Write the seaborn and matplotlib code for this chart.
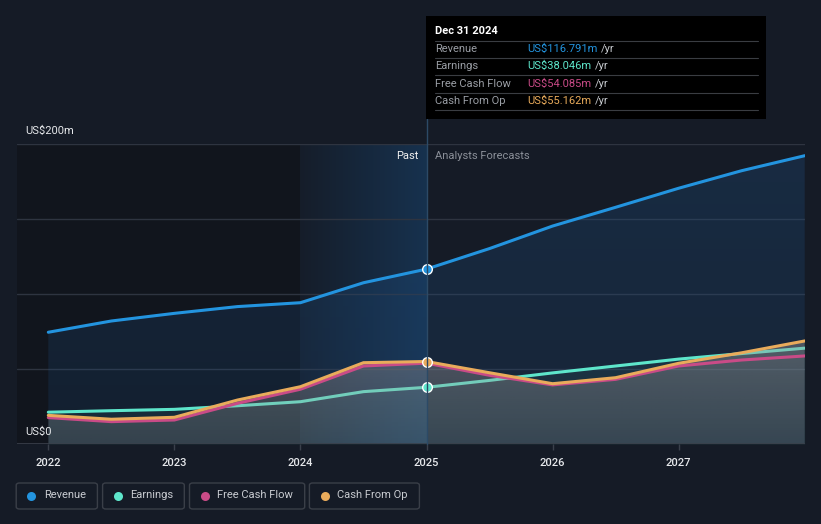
import numpy as np
import pandas as pd
import matplotlib
matplotlib.use("Agg")
import matplotlib.pyplot as plt
from matplotlib.patches import FancyBboxPatch, Rectangle
from matplotlib.lines import Line2D
import seaborn as sns

# ---------------- data (US$ m) ----------------
years_past = [2022.0, 2022.5, 2023.0, 2023.5, 2024.0, 2024.5, 2025.0]
years_fc = [2025.0, 2025.5, 2026.0, 2026.5, 2027.0, 2027.5, 2028.0]

revenue_past = [74.7, 82.2, 87.3, 91.8, 94.4, 107.7, 116.8]
revenue_fc = [116.8, 130.5, 145.5, 158.0, 170.7, 182.4, 192.4]
earnings_past = [21.4, 22.4, 23.3, 25.7, 28.4, 35.1, 38.0]
earnings_fc = [38.0, 42.6, 47.6, 52.2, 56.8, 60.5, 64.1]
fcf_past = [17.8, 15.1, 16.2, 27.3, 36.7, 52.2, 54.1]
fcf_fc = [54.1, 46.0, 39.6, 43.3, 52.2, 56.2, 58.9]
cfo_past = [19.3, 16.7, 18.0, 29.5, 38.4, 54.4, 55.2]
cfo_fc = [55.2, 47.7, 40.4, 44.4, 54.0, 61.0, 68.9]

series_names = ["Revenue", "Earnings", "Free Cash Flow", "Cash From Op"]
tooltip_values = ["US$116.791m", "US$38.046m", "US$54.085m", "US$55.162m"]
year_ticks = [2022, 2023, 2024, 2025, 2026, 2027]
y_labels = ["US$0", "US$200m"]

colors = {"Revenue": "#2394df", "Earnings": "#5ee6cb",
          "Free Cash Flow": "#c94b87", "Cash From Op": "#e9ab5b"}

def series(past, fc):
    return list(past) + list(fc[1:])

years = years_past + years_fc[1:]
data = {
    "Revenue": series(revenue_past, revenue_fc),
    "Earnings": series(earnings_past, earnings_fc),
    "Free Cash Flow": series(fcf_past, fcf_fc),
    "Cash From Op": series(cfo_past, cfo_fc),
}
df = pd.concat([pd.DataFrame({"year": years, "value": data[k], "series": k}) for k in series_names])

# ---------------- style ----------------
BG = "#151b26"
sns.set_theme(style="dark")
plt.rcParams["font.family"] = ["Roboto", "DejaVu Sans"]

W, H = 821, 524
fig = plt.figure(figsize=(W / 100, H / 100), dpi=100, facecolor=BG)
ax_l, ax_r, ax_t, ax_b = 16.8, 804.7, 144.3, 444.3
ax = fig.add_axes([ax_l / W, 1 - ax_b / H, (ax_r - ax_l) / W, (ax_b - ax_t) / H])
ax.set_facecolor(BG)
x0, x1 = 2021.75, 2028.0
ax.set_xlim(x0, x1)
ax.set_ylim(0, 200)

# background regions
ax.axvspan(x0, 2024.0, color="#11151d", zorder=0, lw=0)
grad = np.zeros((2, 512, 4))
grad[..., 0] = 0.10
grad[..., 1] = 0.33
grad[..., 2] = 0.55
grad[..., 3] = np.linspace(0.04, 0.40, 512)[None, :]
ax.imshow(grad, extent=[2024.0, 2025.0, 0, 200], aspect="auto", zorder=0.5,
          interpolation="bicubic")

# grid lines
for gy in [50, 100, 150, 200]:
    ax.axhline(gy, color="#2e3440", lw=1, zorder=1)
ax.axhline(0, color="#3a404b", lw=1.2, zorder=6)

xs = np.array(years)

def gradient_fill(yvals, rgb, a_top, a_bot, z):
    poly = ax.fill_between(xs, 0, yvals, color="none", lw=0, zorder=z)
    g = np.zeros((256, 2, 4))
    g[..., 0], g[..., 1], g[..., 2] = rgb
    g[..., 3] = np.linspace(a_top, a_bot, 256)[:, None]
    top = max(yvals)
    im = ax.imshow(g, extent=[xs[0], xs[-1], 0, top], aspect="auto", zorder=z,
                   interpolation="bilinear", origin="upper")
    path = poly.get_paths()[0]
    im.set_clip_path(path, transform=ax.transData)

# revenue fill
gradient_fill(data["Revenue"], (0.13, 0.35, 0.58), 0.26, 0.16, 1.5)
ax.fill_between(xs, 0, data["Earnings"], color="#5ee6cb", alpha=0.06, lw=0, zorder=1.6)

# lines via seaborn
sns.lineplot(data=df[df.series.isin(["Revenue", "Earnings"])], x="year", y="value",
             hue="series", palette=colors, lw=2.2, legend=False, ax=ax, zorder=3,
             estimator=None, sort=False)
# gray fill over earnings line
gradient_fill(list(np.maximum(data["Cash From Op"], data["Free Cash Flow"])),
              (0.62, 0.60, 0.60), 0.42, 0.22, 3.5)
sns.lineplot(data=df[df.series.isin(["Free Cash Flow", "Cash From Op"])], x="year", y="value",
             hue="series", palette=colors, lw=2.2, legend=False, ax=ax, zorder=4,
             estimator=None, sort=False)

# markers at Dec 31 2024
for k, v in [("Revenue", revenue_past[-1]), ("Earnings", earnings_past[-1]),
             ("Cash From Op", cfo_past[-1])]:
    ax.scatter([2025.0], [v], s=48, color=colors[k], edgecolor="white", linewidth=1.0, zorder=7)

ax.set_xlim(x0, x1)
ax.set_ylim(0, 200)

# axes styling
for s in ax.spines.values():
    s.set_visible(False)
ax.set_xticks(year_ticks)
ax.set_xticklabels([str(y) for y in year_ticks], color="#e6e8eb", fontsize=8, fontweight="medium")
ax.tick_params(axis="x", length=4, width=1, color="#3a404b", pad=6, bottom=True)
ax.set_yticks([])
ax.set_xlabel("")
ax.set_ylabel("")
ax.grid(False)

# y labels
fig.text(25 / W, 1 - 131 / H, y_labels[1], color="#e6e8eb", fontsize=8, va="center", ha="left")
fig.text(25 / W, 1 - 432 / H, y_labels[0], color="#e6e8eb", fontsize=8, va="center", ha="left")

# past / forecast labels
fig.text(418 / W, 1 - 156 / H, "Past", color="#f0f0f0", fontsize=8, va="center", ha="right")
fig.text(435 / W, 1 - 156 / H, "Analysts Forecasts", color="#8b9099", fontsize=8, va="center", ha="left")

# vertical line at 2025 up to tooltip
fig.add_artist(Line2D([427 / W, 427 / W], [1 - 444 / H, 1 - 119 / H], color="#2c4a66", lw=1, zorder=2))

# tooltip
fig.add_artist(Rectangle((426 / W, 1 - 119 / H), (766 - 426) / W, (119 - 16) / H,
                         facecolor="black", edgecolor="none", zorder=10))
fig.text(435 / W, 1 - 31 / H, "Dec 31 2024", color="white", fontsize=8, fontweight="bold",
         va="center", ha="left", zorder=11)
row_y = [49, 66, 84, 101]
for yy in [41, 58, 75, 93, 110]:
    fig.add_artist(Line2D([435 / W, 758 / W], [1 - yy / H, 1 - yy / H], color="#3a3d42", lw=0.8, zorder=11))
val_texts = []
for name, val, yy in zip(series_names, tooltip_values, row_y):
    fig.text(435 / W, 1 - yy / H, name, color="#9a9ea5", fontsize=8, va="center", ha="left", zorder=11)
    t = fig.text(527 / W, 1 - yy / H, val, color=colors[name], fontsize=8, va="center", ha="left", zorder=11)
    val_texts.append((t, yy))
fig.canvas.draw()
r = fig.canvas.get_renderer()
for t, yy in val_texts:
    bb = t.get_window_extent(renderer=r)
    fig.text((bb.x1 + 4) / W, 1 - yy / H, "/yr", color="#c8cbd0", fontsize=8, va="center", ha="left", zorder=11)

# legend boxes
boxes = [(16.2, 97.4, 31.4, 44.0), (102.6, 184.3, 117.8, 129.8),
         (189.5, 304.7, 204.7, 216.8), (309.4, 419.4, 324.6, 336.6)]
for name, (bx0, bx1, dx, tx) in zip(series_names, boxes):
    fig.add_artist(FancyBboxPatch((bx0 / W, 1 - 509 / H), (bx1 - bx0) / W, (509 - 483) / H,
                                  boxstyle="round,pad=0,rounding_size=0.004",
                                  facecolor="none", edgecolor="#3a3f48", lw=1))
    fig.add_artist(Line2D([dx / W], [1 - 495.5 / H], marker="o", markersize=6.5, color=colors[name],
                          markeredgewidth=0, linestyle="none"))
    fig.text(tx / W, 1 - 495.5 / H, name, color="#c9ccd1", fontsize=8, va="center", ha="left")

fig.savefig("out.png", dpi=100, facecolor=BG)
